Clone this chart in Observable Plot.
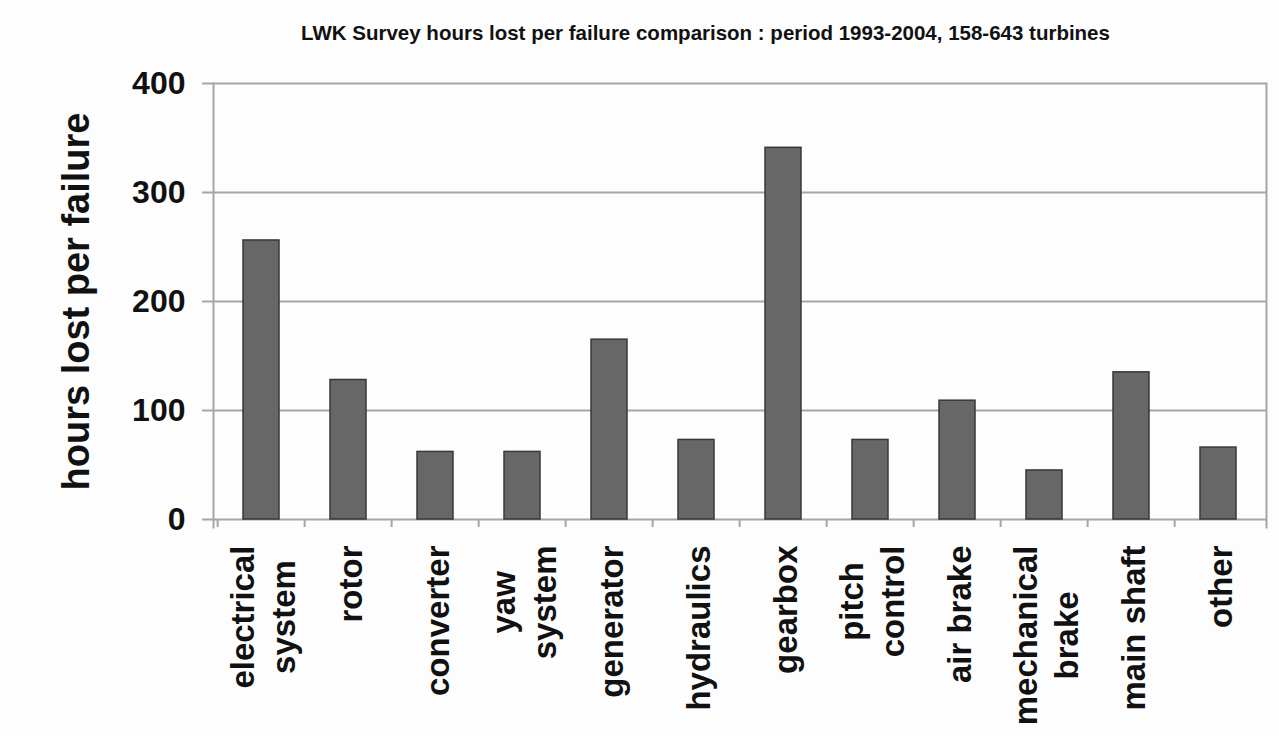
<!DOCTYPE html>
<html><head><meta charset="utf-8">
<script src="https://cdn.jsdelivr.net/npm/d3@7"></script>
<script src="https://cdn.jsdelivr.net/npm/@observablehq/plot@0.6"></script>
<style>
body{margin:0;background:#fdfdfd;font-family:"Liberation Sans",Arial,sans-serif;}
#title{margin-left:132px;width:1147px;text-align:center;font-weight:bold;font-size:20.5px;line-height:24px;height:24px;padding-top:21px;padding-bottom:15px;color:#111;white-space:nowrap;}
#chart svg{display:block;}
</style></head><body>
<div id="title"></div>
<div id="chart"></div>
<script>
const titleText = "LWK Survey hours lost per failure comparison : period 1993-2004, 158-643 turbines";
const yLabel = "hours lost per failure";
const categories = ["electrical system","rotor","converter","yaw system","generator","hydraulics","gearbox","pitch control","air brake","mechanical brake","main shaft","other"];
const categoryLabels = ["electrical\nsystem","rotor","converter","yaw\nsystem","generator","hydraulics","gearbox","pitch\ncontrol","air brake","mechanical\nbrake","main shaft","other"];
const hoursLost = [256,128,62,62,165,73,341,73,109,45,135,66];
const yTicks = [0,100,200,300,400];

document.getElementById("title").textContent = titleText;
const data = categories.map((c,i)=>({category:c, hours:hoursLost[i]}));
const labelOf = new Map(categories.map((c,i)=>[c,categoryLabels[i]]));
const W=1279, H=676, mL=213, mR=13, mT=23, mB=217;
const step=(W-mL-mR)/categories.length;
const grid="#a6a6a6";
const font="Liberation Sans, Arial, sans-serif";

const plot = Plot.plot({
  width:W, height:H, marginLeft:mL, marginRight:mR, marginTop:mT, marginBottom:mB,
  style:{background:"transparent", fontFamily:font, color:"#111"},
  x:{domain:categories, paddingInner:0.59, paddingOuter:0.295},
  y:{domain:[0,400]},
  marks:[
    Plot.ruleY(yTicks, {stroke:grid, strokeWidth:2, insetLeft:-11}),
    Plot.frame({anchor:"left", stroke:grid, strokeWidth:2, insetBottom:-8}),
    Plot.frame({anchor:"right", stroke:grid, strokeWidth:2, insetBottom:-8}),
    Plot.axisX({tickSize:8, text:null, stroke:grid, strokeWidth:2, dx:-step/2, label:null}),
    Plot.barY(data, {x:"category", y:"hours", fill:"#676767", stroke:"#383838", strokeWidth:1.5}),
    Plot.axisY(yTicks, {tickSize:0, tickPadding:28, fontSize:32, fontWeight:"bold", fill:"#111", label:null}),
    Plot.axisX({tickSize:0, tickPadding:26, tickRotate:-90, tickFormat:c=>labelOf.get(c), fontSize:33, fontWeight:"bold", fill:"#111", lineHeight:1.24, label:null}),
    Plot.text([yLabel], {frameAnchor:"left", textAnchor:"middle", rotate:-90, dx:-137, fontSize:38, fontWeight:"bold", fill:"#111"})
  ]
});
document.getElementById("chart").appendChild(plot);

// center multi-line category labels on their longest line (as in the original)
d3.select(plot).selectAll('g[aria-label="x-axis tick label"] text').each(function(){
  const spans = this.querySelectorAll("tspan");
  if (spans.length > 1) {
    let maxLen = 0;
    spans.forEach(s => { maxLen = Math.max(maxLen, s.getComputedTextLength()); });
    this.setAttribute("text-anchor","middle");
    spans.forEach(s => s.setAttribute("x", -maxLen/2));
  }
});
</script>
</body></html>
